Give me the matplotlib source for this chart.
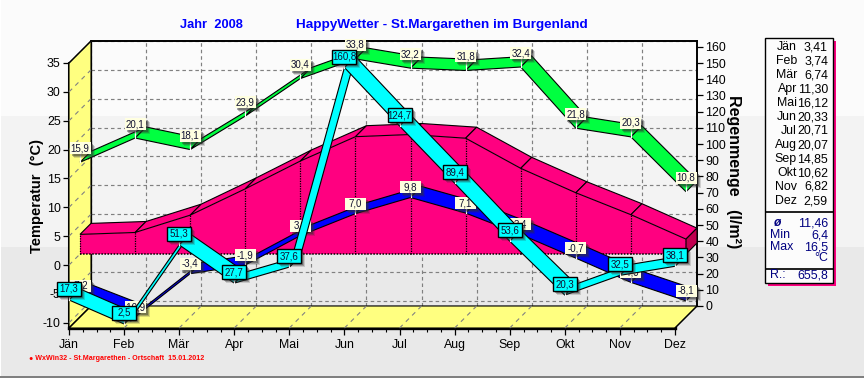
import numpy as np
import matplotlib
matplotlib.use("Agg")
import matplotlib.pyplot as plt
from matplotlib.patches import Polygon, Rectangle
from matplotlib.transforms import IdentityTransform

plt.rcParams["font.family"] = ["Liberation Sans", "DejaVu Sans"]
plt.rcParams["axes.unicode_minus"] = False

months = ["Jän", "Feb", "Mär", "Apr", "Mai", "Jun", "Jul", "Aug", "Sep", "Okt", "Nov", "Dez"]
temp_max = [15.9, 20.1, 18.1, 23.9, 30.4, 33.8, 32.2, 31.8, 32.4, 21.8, 20.3, 10.8]
temp_min = [-7.2, -10.9, -3.4, -1.9, 3.2, 7.0, 9.8, 7.1, 3.4, -0.7, -4.9, -8.1]
temp_mean = [3.41, 3.74, 6.74, 11.30, 16.12, 20.33, 20.71, 20.07, 14.85, 10.62, 6.82, 2.59]
rain = [17.3, 2.5, 51.3, 27.7, 37.6, 160.8, 124.7, 89.4, 53.6, 20.3, 32.5, 38.1]
temp_ticks = [-10, -5, 0, 5, 10, 15, 20, 25, 30, 35]
rain_ticks = list(range(0, 170, 10))
stats = [("Min", "6,4"), ("Max", "16,5")]
year_mean = "11,46"
rain_total = "655,8"

W, H = 864, 378
GREEN, BLUE, CYAN, PINK, YELLOW = "#00ff40", "#0000ff", "#00ffff", "#ff0080", "#ffff80"
NAVY = "#000080"
DEPTH = 22
temp_lim = (-10.9, 35)
rain_lim = (0, 163.6)
x = np.arange(12)

fig = plt.figure(figsize=(W / 100, H / 100), dpi=100, facecolor="#e9e9e9")


def px_box(x0, y0, x1, y1):
    return [x0 / W, 1 - y1 / H, (x1 - x0) / W, (y1 - y0) / H]


def fig_rect(x0, y0, x1, y1, **kw):
    fig.add_artist(Rectangle((x0 / W, 1 - y1 / H), (x1 - x0) / W, (y1 - y0) / H,
                             transform=fig.transFigure, **kw))


def fig_text(px, py, s, **kw):
    kw.setdefault("va", "center")
    fig.text(px / W, 1 - py / H, s, **kw)


# Hintergrund
fig_rect(0, 0, W, 116, color="#fbfbfb", lw=0, zorder=-5)
fig_rect(0, 116, W, 247, color="#f3f3f3", lw=0, zorder=-5)
fig_rect(0, 376, W, H, color="#808080", lw=0, zorder=-5)
fig_rect(0, 0, 1, 376, color="#ffffff", lw=0, zorder=-5)

# Rueckwand (Gitter und Regenachse)
ax_back = fig.add_axes(px_box(69 + DEPTH, 63 - DEPTH, 675 + DEPTH, 328 - DEPTH))
ax_back.patch.set_alpha(0)
ax_back.set_xlim(0, 11)
ax_back.set_ylim(*temp_lim)
ax_back.set_xticks(x)
ax_back.set_yticks(temp_ticks)
ax_back.grid(True, color="#808080", ls=(0, (3, 2.5)), lw=0.85)
ax_back.tick_params(length=0, labelleft=False, labelbottom=False)
for s in ["left", "bottom"]:
    ax_back.spines[s].set_linewidth(0.9)
ax_back.spines["top"].set_linewidth(1.4)
ax_back.spines["right"].set_linewidth(1.4)

ax_rain_back = ax_back.twinx()
ax_rain_back.set_ylim(*rain_lim)
ax_rain_back.set_yticks(rain_ticks)
ax_rain_back.tick_params(axis="y", length=4, width=0.9, pad=2, labelsize=8.9)
for s in ax_rain_back.spines.values():
    s.set_visible(False)

# Vordere Ebene
ax = fig.add_axes(px_box(69, 63, 675, 328))
ax.patch.set_alpha(0)
ax.set_xlim(0, 11)
ax.set_ylim(*temp_lim)
ax.set_yticks(temp_ticks)
ax.set_xticks(x)
ax.set_xticklabels(months)
ax.set_xticks(np.arange(0, 11.01, 0.25), minor=True)
ax.tick_params(axis="y", which="major", length=4, width=0.9, labelsize=8.9, pad=2)
ax.tick_params(axis="x", which="major", length=5, width=0.9, labelsize=8.9, pad=3)
ax.tick_params(axis="x", which="minor", length=3, width=0.8)
ax.spines["top"].set_visible(False)
ax.spines["right"].set_visible(False)
ax.spines["left"].set_linewidth(2.2)
ax.spines["bottom"].set_linewidth(2.4)

ax_r = ax.twinx()
ax_r.set_ylim(*rain_lim)
ax_r.patch.set_alpha(0)
ax_r.axis("off")

fig.canvas.draw()
ID = IdentityTransform()


def disp(a, xs, ys, d=0):
    p = a.transData.transform(np.column_stack([xs, ys]))
    return p + d


def poly(pts, color, ec="black", lw=0.8, z=2):
    ax_r.add_patch(Polygon(pts, closed=True, fc=color, ec=ec, lw=lw, transform=ID,
                           clip_on=False, zorder=z))


def dline(p, q, z, color="black", ls="-", lw=0.8):
    ax_r.plot([p[0], q[0]], [p[1], q[1]], color=color, ls=ls, lw=lw, transform=ID,
              clip_on=False, zorder=z)


# Gelbe Waende
w0, w1 = disp(ax, [0, 0], temp_lim)
e0 = disp(ax, [11], [temp_lim[0]])[0]
poly([w0, w1, w1 + DEPTH, w0 + DEPTH], YELLOW, z=0.5)
poly([w0, e0, e0 + DEPTH, w0 + DEPTH], YELLOW, z=0.5)
for t in temp_ticks:
    p = disp(ax, [0], [t])[0]
    dline(p, p + DEPTH, 0.7, color="#808080", ls=(0, (4, 4)), lw=0.8)
for m in x[1:-1]:
    p = disp(ax, [m], [temp_lim[0]])[0]
    dline(p, p + DEPTH, 0.7, color="#808080", ls=(0, (4, 4)), lw=0.8)
dline(w0, w0 + DEPTH, 0.8, lw=0.9)
dline(w1, w1 + DEPTH, 0.8, lw=0.9)
dline(e0, e0 + DEPTH, 0.8, lw=0.9)

# Mitteltemperatur als Block
mean_pts = disp(ax, x, temp_mean, 11)
base_pts = disp(ax, x, np.zeros(12), 11)
poly(np.vstack([mean_pts, base_pts[::-1]]), PINK, ec="none", z=1)
for i in range(11):
    poly([mean_pts[i], mean_pts[i + 1], mean_pts[i + 1] + 11, mean_pts[i] + 11], PINK, z=1.1)
for i in range(12):
    dline(base_pts[i], mean_pts[i], 1.2, ls=(0, (1, 1)), lw=0.9)
dline(base_pts[0], base_pts[-1], 1.2, ls=(0, (1, 1)), lw=1.1)
poly([mean_pts[-1], mean_pts[-1] + 11, base_pts[-1] + 11, base_pts[-1]], "#c00050", z=1.2)


def ribbon(a, vals, color, d0, d1, z):
    f = disp(a, x, vals, d0)
    b = disp(a, x, vals, d1)
    for i in range(11):
        poly([f[i], f[i + 1], b[i + 1], b[i]], color, z=z)
    return f


def label(p, s, dy, fc, boxed, z, w=21, h=12):
    cx, cy = p[0], p[1] + dy
    dline((cx, cy), p, z, color="white", lw=0.9)
    for k, al in ((4, 0.18), (3, 0.3), (2, 0.4)):
        ax_r.add_patch(Rectangle((cx - w / 2 + k, cy - h / 2 - k), w, h, fc="#303030", ec="none",
                                 alpha=al, transform=ID, clip_on=False, zorder=z))
    ax_r.add_patch(Rectangle((cx - w / 2, cy - h / 2), w, h, fc=fc, ec="black" if boxed else "none",
                             lw=1.0, transform=ID, clip_on=False, zorder=z + 0.01))
    ax_r.text(cx, cy, s, fontsize=7, color="#101030", ha="center", va="center", transform=ID,
              clip_on=False, zorder=z + 0.02)


def comma(v, n=1):
    return f"{v:.{n}f}".replace(".", ",")


f_max = ribbon(ax, temp_max, GREEN, 11, DEPTH, 3)
for p, v in zip(f_max, temp_max):
    label(p, comma(v), 14, "#ffffe0", False, 3.5)

f_min = ribbon(ax, temp_min, BLUE, 11, DEPTH, 4)
for p, v in zip(f_min, temp_min):
    label(p, comma(v), 10, "#ffffe0", False, 4.5)

f_rain = ribbon(ax_r, rain, CYAN, 0, 11, 5)
for p, v in zip(f_rain, rain):
    label(p, comma(v), 11, CYAN, True, 5.5, w=24, h=14)

# Beschriftung
fig_text(180, 25, "Jahr  2008", color="#0000ff", fontsize=9.3, fontweight="bold")
fig_text(296, 25, "HappyWetter - St.Margarethen im Burgenland", color="#0000ff", fontsize=9.7, fontweight="bold")
fig_text(37, 196, "Temperatur  (°C)", rotation=90, fontsize=10.5, fontweight="bold", ha="center")
fig_text(733, 172, "Regenmenge   (l/m²)", rotation=270, fontsize=11.5, fontweight="bold", ha="center")
fig_text(29, 358, "● WxWin32 - St.Margarethen - Ortschaft  15.01.2012", color="#ff0000", fontsize=5.1,
         fontweight="bold")

# Seitenkasten
fig_rect(768, 41, 836, 286, color=PINK, lw=0, zorder=1)
fig_rect(765, 38, 833, 283, fc="#fcfcfc", ec="black", lw=1.0, zorder=2)
fig_rect(765, 211, 833, 211.5, fc="black", ec="black", lw=0.5, zorder=3)
fig_rect(765, 268, 833, 268.5, fc="black", ec="black", lw=0.5, zorder=3)
for i, (m, v) in enumerate(zip(months, temp_mean)):
    fig_text(797, 47 + i * 14, m, ha="right", fontsize=8.9, zorder=4)
    fig_text(828, 47 + i * 14, comma(v, 2), ha="right", fontsize=8.9, zorder=4)
fig_text(774, 223, "ø", color=NAVY, fontsize=8.7, fontweight="bold", style="italic", zorder=4)
fig_text(828, 223, year_mean, color=NAVY, ha="right", fontsize=8.9, zorder=4)
for i, (n, v) in enumerate(stats):
    fig_text(770, 235 + i * 12, n, color=NAVY, fontsize=8.9, zorder=4)
    fig_text(828, 235 + i * 12, v, color=NAVY, ha="right", fontsize=8.9, zorder=4)
fig_text(828, 258, "°C", color=NAVY, ha="right", fontsize=8.9, zorder=4)
fig_text(770, 275, "R.:", color=NAVY, fontsize=8.9, zorder=4)
fig_text(828, 275, rain_total, color=NAVY, ha="right", fontsize=8.9, zorder=4)

fig.savefig("out.png", dpi=100, facecolor=fig.get_facecolor())
